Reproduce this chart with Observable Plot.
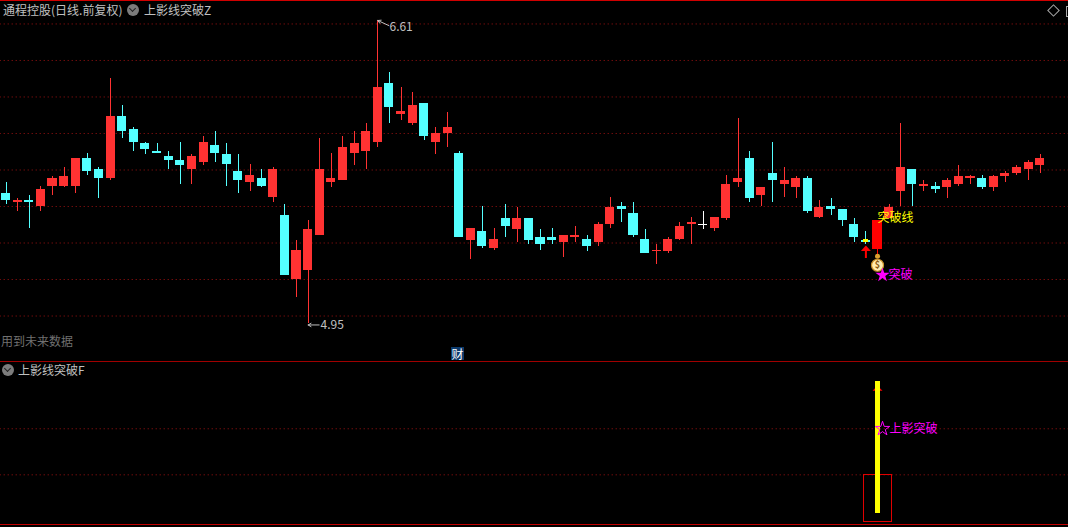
<!DOCTYPE html>
<html><head><meta charset="utf-8">
<script src="https://cdn.jsdelivr.net/npm/d3@7"></script>
<script src="https://cdn.jsdelivr.net/npm/@observablehq/plot@0.6"></script>
<style>
html,body{margin:0;padding:0;background:#000;}
#page{position:relative;width:1068px;height:527px;overflow:hidden;background:#000;font-family:"Noto Sans CJK SC",sans-serif;}
#page svg{display:block;}
.t{position:absolute;white-space:nowrap;font-size:12px;line-height:14px;color:#c0c0c0;}
.line{position:absolute;left:0;width:1068px;height:1px;}
.ico{position:absolute;width:12px;height:12px;border-radius:50%;background:#7c7c7c;}
.ico:after{content:"";position:absolute;left:3.4px;top:1.8px;width:4px;height:4px;border-right:1.5px solid #222;border-bottom:1.5px solid #222;transform:rotate(45deg);}
</style></head>
<body><div id="page">
<div class="line" style="top:0;background:#d00000"></div>
<div id="top"></div>
<div id="bottom"></div>
<div class="line" style="top:361px;background:#a00000"></div>
<div class="line" style="top:524px;background:#c00000"></div>
<span class="t" style="left:3px;top:3px">通程控股(日线.前复权)</span>
<div class="ico" style="left:127px;top:4px"></div>
<span class="t" style="left:144px;top:3px">上影线突破Z</span>
<div style="position:absolute;left:1049px;top:6px;width:7px;height:7px;border:1px solid #a8a8a8;transform:rotate(45deg)"></div>
<div style="position:absolute;left:1066px;top:6px;width:4px;height:9px;border:1px solid #a8a8a8"></div>
<span class="t" style="left:1px;top:334px;color:#707070">用到未来数据</span>
<span class="t" style="left:451px;top:347px;width:13px;height:13px;background:#0c3a6c;color:#fff;line-height:13px;text-align:center">财</span>
<div class="ico" style="left:2px;top:364px"></div>
<span class="t" style="left:18px;top:363px">上影线突破F</span>
</div>
<script>
const kinds = ("crcrrrrccr"+"ccccccrrcc"+"crcrcrrrrr"+"rrrcrrcrrc"+"rcrcrcccrr"+"crrcccrrrr"+"wrrrcrcrrc"+"rccccsrrcr"+"crrrcrrrrr").split("");
const high = [5.723,5.635,5.651,5.701,5.756,5.805,5.854,5.882,5.805,6.293,6.145,6.024,5.942,5.936,5.893,5.942,5.876,5.975,6.002,5.936,5.876,5.821,5.794,5.805,5.602,5.405,5.514,5.964,5.882,5.975,6.002,6.046,6.61,6.325,6.243,6.216,6.156,6.024,6.106,5.893,5.471,5.591,5.471,5.602,5.586,5.525,5.465,5.471,5.432,5.482,5.432,5.503,5.64,5.613,5.613,5.465,5.383,5.421,5.503,5.531,5.564,5.531,5.761,6.073,5.893,5.695,5.942,5.805,5.756,5.756,5.624,5.635,5.575,5.525,5.454,5.514,5.602,6.046,5.794,5.734,5.723,5.745,5.816,5.761,5.761,5.761,5.783,5.816,5.843,5.876];
const bodyTop = [5.662,5.624,5.624,5.684,5.745,5.756,5.854,5.854,5.794,6.084,6.084,6.013,5.936,5.893,5.865,5.843,5.865,5.942,5.925,5.876,5.783,5.761,5.745,5.794,5.542,5.35,5.465,5.794,5.745,5.914,5.936,6.002,6.243,6.265,6.112,6.145,6.156,5.991,6.024,5.882,5.471,5.454,5.41,5.525,5.525,5.525,5.421,5.421,5.432,5.432,5.41,5.493,5.586,5.591,5.553,5.41,5.35,5.41,5.482,5.503,5.495,5.531,5.712,5.745,5.854,5.695,5.772,5.734,5.745,5.745,5.586,5.591,5.575,5.493,5.405,5.514,5.586,5.805,5.794,5.712,5.701,5.734,5.756,5.756,5.745,5.756,5.772,5.805,5.832,5.854];
const bodyBottom = [5.624,5.613,5.613,5.591,5.701,5.701,5.701,5.783,5.745,5.745,6.002,5.942,5.904,5.882,5.843,5.816,5.794,5.832,5.882,5.821,5.734,5.723,5.701,5.64,5.213,5.191,5.24,5.432,5.723,5.734,5.882,5.893,5.942,6.134,6.095,6.046,5.975,5.942,5.991,5.421,5.405,5.372,5.361,5.482,5.465,5.405,5.383,5.405,5.394,5.421,5.372,5.394,5.493,5.575,5.432,5.334,5.345,5.345,5.41,5.493,5.487,5.471,5.525,5.723,5.635,5.651,5.734,5.712,5.695,5.564,5.531,5.575,5.514,5.421,5.394,5.356,5.525,5.673,5.712,5.701,5.684,5.695,5.712,5.745,5.695,5.695,5.756,5.772,5.794,5.816];
const low = [5.602,5.564,5.471,5.564,5.651,5.695,5.662,5.761,5.635,5.734,5.964,5.893,5.876,5.882,5.794,5.712,5.712,5.816,5.832,5.701,5.662,5.673,5.695,5.613,5.213,5.093,4.95,5.432,5.695,5.734,5.816,5.794,5.914,6.046,6.062,6.035,5.953,5.876,5.914,5.421,5.301,5.361,5.35,5.421,5.394,5.383,5.35,5.383,5.312,5.394,5.345,5.372,5.471,5.503,5.421,5.334,5.273,5.334,5.405,5.383,5.465,5.454,5.514,5.695,5.613,5.591,5.613,5.64,5.635,5.553,5.525,5.542,5.482,5.394,5.383,5.323,5.525,5.591,5.591,5.673,5.662,5.635,5.701,5.712,5.684,5.673,5.723,5.761,5.734,5.772];
const priceGrid = [6.591,6.391,6.191,5.991,5.791,5.591,5.391,5.191,4.991];
const signalGrid = [0.642,0.293];
const kindDomain = ["r","c","w","s"];
const kindColors = ["#ff3232","#54ffff","#ffffff","#ff0000"];

const candles = kinds.map((k,i) => ({i,k,h:high[i],t:bodyTop[i],b:bodyBottom[i],l:low[i]}));
const crisp = {shapeRendering:"crispEdges"};
const xScale = {domain:[0,89],range:[5.5,1039.7]};
const font = '"Noto Sans CJK SC",sans-serif';
const sigIndex = 75, prevIndex = 74;
const gridStyle = {x1:-0.5,x2:91.5,stroke:"#a01212",strokeDasharray:"1 3",strokeLinecap:"butt"};

const topPlot = Plot.plot({
  width:1068,height:361,margin:0,
  style:{background:"#000",fontFamily:font},
  x:{...xScale,axis:null},
  y:{domain:[4.95,6.61],range:[323,20],axis:null},
  color:{domain:kindDomain,range:kindColors},
  marks:[
    Plot.ruleY(priceGrid,gridStyle),
    Plot.ruleX(candles,{x:"i",y1:"l",y2:"h",stroke:"k",strokeWidth:1,...crisp}),
    Plot.rect(candles,{x1:d=>d.i-0.39,x2:d=>d.i+0.39,y1:"b",y2:"t",fill:"k",...crisp}),
    Plot.arrow([{x1:32.95,y1:6.582,x2:32,y2:6.61}],{x1:"x1",y1:"y1",x2:"x2",y2:"y2",stroke:"#c0c0c0",strokeWidth:1,headLength:5,bend:0}),
    Plot.text([{x:33,y:6.572,s:"6.61"}],{x:"x",y:"y",text:"s",fill:"#c0c0c0",fontSize:12,textAnchor:"start"}),
    Plot.arrow([{x1:26.95,y1:4.942,x2:26,y2:4.942}],{x1:"x1",y1:"y1",x2:"x2",y2:"y2",stroke:"#c0c0c0",strokeWidth:1,headLength:5,bend:0}),
    Plot.text([{x:27.07,y:4.94,s:"4.95"}],{x:"x",y:"y",text:"s",fill:"#c0c0c0",fontSize:12,textAnchor:"start"}),
    Plot.rect([{i:prevIndex,y1:5.394,y2:5.41}],{x1:d=>d.i-0.2,x2:d=>d.i+0.2,y1:"y1",y2:"y2",fill:"#ffff00",...crisp}),
    Plot.ruleX([{i:prevIndex,y1:5.306,y2:5.345}],{x:"i",y1:"y1",y2:"y2",stroke:"#ff0000",strokeWidth:2}),
    Plot.dot([{i:prevIndex,y:5.361}],{x:"i",y:"y",fill:"#ff0000",stroke:"none",r:3,
      symbol:{draw(c){c.moveTo(0,-3);c.lineTo(5,2.5);c.lineTo(-5,2.5);c.closePath();}}}),
    Plot.text([{i:sigIndex,y:5.525,s:"突破线"}],{x:"i",y:"y",text:"s",fill:"#ffff00",fontSize:12,textAnchor:"start"}),
    Plot.dot([{i:sigIndex,y:5.318}],{x:"i",y:"y",r:2.5,fill:"#d8a030",stroke:"none"}),
    Plot.dot([{i:sigIndex,y:5.269}],{x:"i",y:"y",r:6,fill:"#ffecb0",stroke:"#c89028",strokeWidth:1.2}),
    Plot.text([{i:sigIndex,y:5.269,s:"$"}],{x:"i",y:"y",text:"s",fill:"#8a5a10",fontSize:9,fontWeight:"bold"}),
    Plot.dot([{i:sigIndex,y:5.215}],{x:"i",y:"y",symbol:"star",r:4.5,fill:"#ff00ff",stroke:"none",dx:5}),
    Plot.text([{i:sigIndex,y:5.215,s:"突破"}],{x:"i",y:"y",text:"s",fill:"#ff00ff",fontSize:12,textAnchor:"start",dx:11})
  ]
});
document.getElementById("top").appendChild(topPlot);

const signalBar = [{i:sigIndex,v0:0,v1:1}];
const signalBox = [{i1:73.82,i2:76.27,y1:-0.063,y2:0.293}];
const bottomPlot = Plot.plot({
  width:1068,height:166,margin:0,
  style:{background:"#000",fontFamily:font},
  x:{...xScale,axis:null},
  y:{domain:[0,1],range:[152,20],axis:null},
  marks:[
    Plot.ruleY(signalGrid,gridStyle),
    Plot.rect(signalBox,{x1:"i1",x2:"i2",y1:"y1",y2:"y2",fill:"none",stroke:"#e00000",strokeWidth:1,...crisp}),
    Plot.dot([{i:sigIndex,y:0.945}],{x:"i",y:"y",fill:"#ff0000",stroke:"none",
      symbol:{draw(c){c.moveTo(0,-3);c.lineTo(5,2);c.lineTo(-5,2);c.closePath();}}}),
    Plot.rect(signalBar,{x1:d=>d.i-0.215,x2:d=>d.i+0.215,y1:"v0",y2:"v1",fill:"#ffff00",...crisp}),
    Plot.dot([{i:sigIndex,y:0.642}],{x:"i",y:"y",symbol:"star",r:4.5,fill:"none",stroke:"#ff00ff",strokeWidth:1,dx:5}),
    Plot.text([{i:sigIndex,y:0.642,s:"上影突破"}],{x:"i",y:"y",text:"s",fill:"#ff00ff",fontSize:12,textAnchor:"start",dx:12})
  ]
});
document.getElementById("bottom").appendChild(bottomPlot);
</script>
</body></html>
